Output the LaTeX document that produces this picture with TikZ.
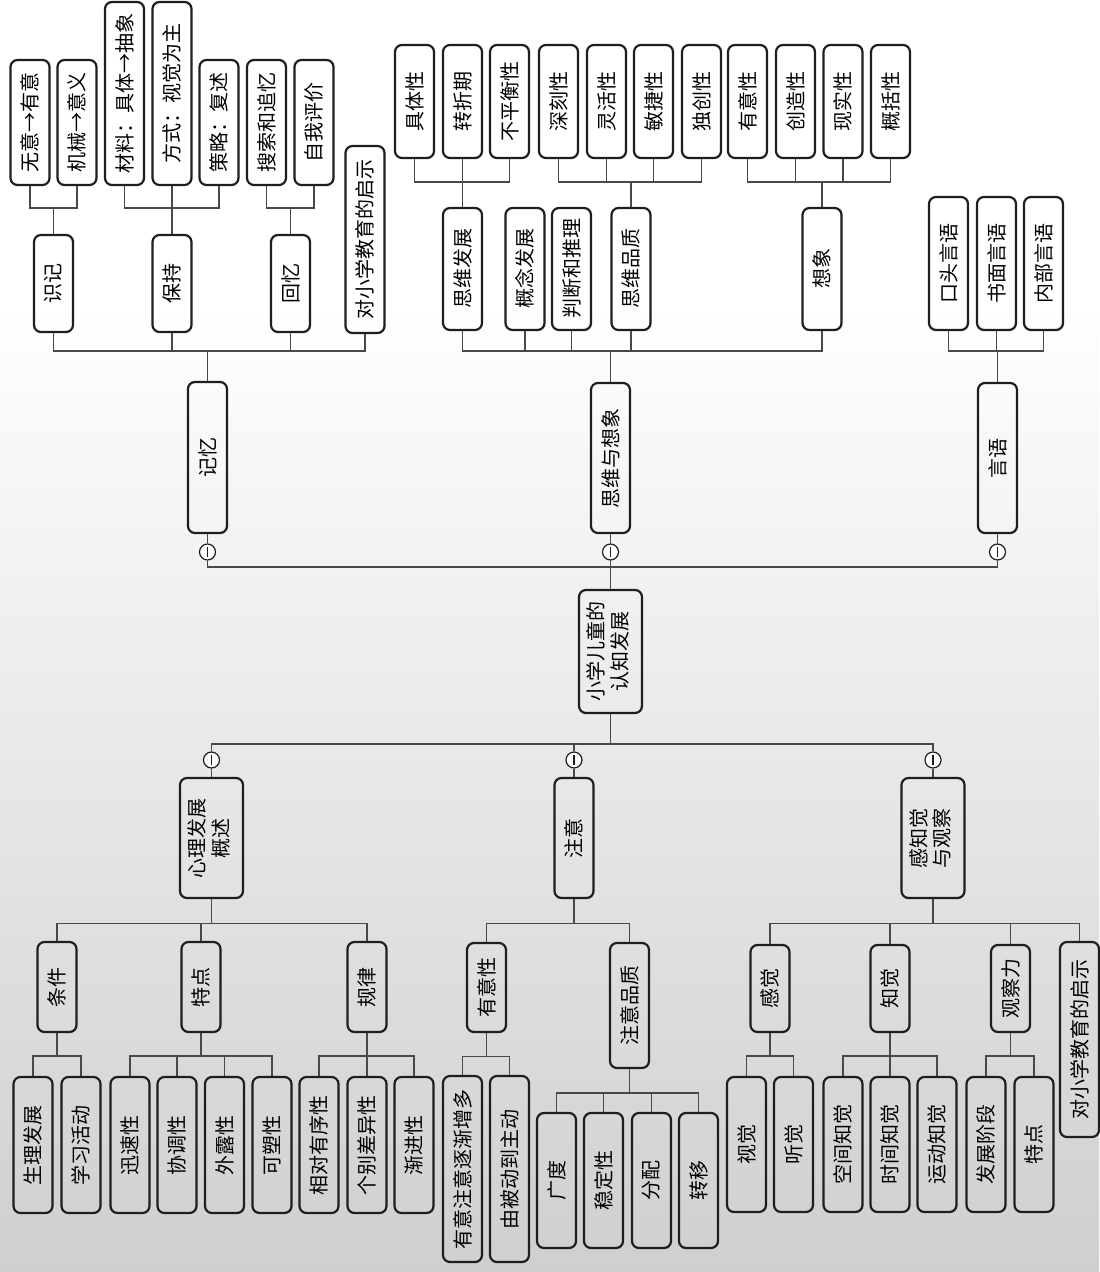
\documentclass[tikz,border=0pt]{standalone}
\usepackage{fontspec}
\setmainfont{Noto Sans CJK SC}
\usepackage{xcolor}
\definecolor{linkgray}{RGB}{72,72,72}
\definecolor{boxline}{RGB}{30,30,30}
\definecolor{paperbottom}{RGB}{206,207,209}
\newcommand{\vtext}[1]{\rotatebox{90}{#1}}
\newcommand{\vtwo}[2]{\rotatebox{90}{\begin{tabular}{@{}c@{}}#1\\#2\end{tabular}}}

\tikzset{
  box/.style={draw=boxline, line width=1.1pt, rounded corners=3.5pt, inner sep=0pt,
    minimum width=19.5pt, font=\fontsize{10pt}{11.5pt}\selectfont},
  widebox/.style={box, minimum width=31.5pt},
  link/.style={linkgray, line width=0.65pt},
  fold/.style={circle, draw=boxline, fill=white, line width=0.6pt, minimum size=8pt, inner sep=0pt,
    path picture={\draw[line width=0.6pt] ([yshift=-2.5pt]path picture bounding box.center)
      -- ([yshift=2.5pt]path picture bounding box.center);}},
}

\begin{document}
\begin{tikzpicture}[x=0.5pt, y=-0.5pt]
  % paper
  \useasboundingbox (0,0) rectangle (1099,1272);
  \fill[white] (0,0) rectangle (1099,1272);
  \shade[top color=white, bottom color=paperbottom] (0,300) rectangle (1099,1272);

  % Memory branch
  \node[box, minimum height=62.5pt] (wuyi) at (30,122.5) {\vtext{无意→有意}};
  \node[box, minimum height=62.5pt] (jixie) at (77,122.5) {\vtext{机械→意义}};
  \node[box, minimum height=91.5pt] (cailiao) at (124.5,93.5) {\vtext{材料：具体→抽象}};
  \node[box, minimum height=91.5pt] (fangshi) at (172,93.5) {\vtext{方式：视觉为主}};
  \node[box, minimum height=62.5pt] (celue) at (219,122.5) {\vtext{策略：复述}};
  \node[box, minimum height=62.5pt] (sousuo) at (266.5,122.5) {\vtext{搜索和追忆}};
  \node[box, minimum height=62.5pt] (ziwo) at (314,122.5) {\vtext{自我评价}};
  \node[box, minimum height=93.5pt] (qishiA) at (365,239.5) {\vtext{对小学教育的启示}};
  \node[box, minimum height=48.5pt] (shiji) at (53.5,283.5) {\vtext{识记}};
  \node[box, minimum height=48.5pt] (baochi) at (172,283.5) {\vtext{保持}};
  \node[box, minimum height=48.5pt] (huiyi) at (290.5,283.5) {\vtext{回忆}};
  \node[box, minimum height=75.5pt] (jiyi) at (207.5,457.5) {\vtext{记忆}};

  \draw[link] (shiji.north) -- ++(0,-26) coordinate (shiji-k);
  \foreach \kid in {wuyi,jixie} \draw[link] (\kid.south) |- (shiji-k);
  \draw[link] (baochi.north) -- ++(0,-26) coordinate (baochi-k);
  \foreach \kid in {cailiao,fangshi,celue} \draw[link] (\kid.south) |- (baochi-k);
  \draw[link] (huiyi.north) -- ++(0,-26) coordinate (huiyi-k);
  \foreach \kid in {sousuo,ziwo} \draw[link] (\kid.south) |- (huiyi-k);
  \draw[link] (jiyi.north) -- ++(0,-30) coordinate (jiyi-k);
  \foreach \kid in {shiji,baochi,huiyi,qishiA} \draw[link] (\kid.south) |- (jiyi-k);

  % Thinking and imagination branch
  \node[box, minimum height=56.5pt] (juti) at (414.5,101.5) {\vtext{具体性}};
  \node[box, minimum height=56.5pt] (zhuanzhe) at (462.5,101.5) {\vtext{转折期}};
  \node[box, minimum height=56.5pt] (buping) at (509.5,101.5) {\vtext{不平衡性}};
  \node[box, minimum height=56.5pt] (shenke) at (558.5,101.5) {\vtext{深刻性}};
  \node[box, minimum height=56.5pt] (linghuo) at (606.5,101.5) {\vtext{灵活性}};
  \node[box, minimum height=56.5pt] (minjie) at (653.5,101.5) {\vtext{敏捷性}};
  \node[box, minimum height=56.5pt] (duchuang) at (701.5,101.5) {\vtext{独创性}};
  \node[box, minimum height=56.5pt] (youyiA) at (747.5,101.5) {\vtext{有意性}};
  \node[box, minimum height=56.5pt] (chuangzao) at (795.5,101.5) {\vtext{创造性}};
  \node[box, minimum height=56.5pt] (xianshi) at (843,101.5) {\vtext{现实性}};
  \node[box, minimum height=56.5pt] (gaikuo) at (890.5,101.5) {\vtext{概括性}};
  \node[box, minimum height=61pt] (siweifz) at (462.5,269) {\vtext{思维发展}};
  \node[box, minimum height=61pt] (gainian) at (525,269) {\vtext{概念发展}};
  \node[box, minimum height=61pt] (panduan) at (571.5,269) {\vtext{判断和推理}};
  \node[box, minimum height=61pt] (pinzhi) at (631,269) {\vtext{思维品质}};
  \node[box, minimum height=61pt] (xiangxiang) at (822,269) {\vtext{想象}};
  \node[box, minimum height=75pt] (swxx) at (610.5,458) {\vtext{思维与想象}};

  \draw[link] (siweifz.north) -- ++(0,-25) coordinate (siweifz-k);
  \foreach \kid in {juti,zhuanzhe,buping} \draw[link] (\kid.south) |- (siweifz-k);
  \draw[link] (pinzhi.north) -- ++(0,-25) coordinate (pinzhi-k);
  \foreach \kid in {shenke,linghuo,minjie,duchuang} \draw[link] (\kid.south) |- (pinzhi-k);
  \draw[link] (xiangxiang.north) -- ++(0,-25) coordinate (xiangxiang-k);
  \foreach \kid in {youyiA,chuangzao,xianshi,gaikuo} \draw[link] (\kid.south) |- (xiangxiang-k);
  \draw[link] (swxx.north) -- ++(0,-31) coordinate (swxx-k);
  \foreach \kid in {siweifz,gainian,panduan,pinzhi,xiangxiang} \draw[link] (\kid.south) |- (swxx-k);

  % Language branch
  \node[box, minimum height=66.5pt] (koutou) at (948.5,263.5) {\vtext{口头言语}};
  \node[box, minimum height=66.5pt] (shumian) at (996.5,263.5) {\vtext{书面言语}};
  \node[box, minimum height=66.5pt] (neibu) at (1043.5,263.5) {\vtext{内部言语}};
  \node[box, minimum height=75pt] (yanyu) at (997.5,458) {\vtext{言语}};
  \draw[link] (yanyu.north) -- ++(0,-31) coordinate (yanyu-k);
  \foreach \kid in {koutou,shumian,neibu} \draw[link] (\kid.south) |- (yanyu-k);

  % Root
  \node[widebox, minimum height=61.5pt] (root) at (610.5,651.5) {\vtwo{小学儿童的}{认知发展}};
  \node[fold] (c1) at (207.5,552) {};
  \node[fold] (c2) at (610.5,552) {};
  \node[fold] (c3) at (997.5,552) {};
  \node[fold] (c4) at (211.5,760) {};
  \node[fold] (c5) at (574,760) {};
  \node[fold] (c6) at (933,760) {};
  \draw[link] (jiyi.south) -- (c1.north);
  \draw[link] (swxx.south) -- (c2.north);
  \draw[link] (yanyu.south) -- (c3.north);
  \draw[link] (root.north) -- ++(0,-22) coordinate (root-up);
  \foreach \kid in {c1,c2,c3} \draw[link] (\kid.south) |- (root-up);
  \draw[link] (root.south) -- ++(0,30) coordinate (root-down);
  \foreach \kid in {c4,c5,c6} \draw[link] (\kid.north) |- (root-down);

  % Psychological development branch
  \node[widebox, minimum height=60pt] (xinli) at (211.5,838) {\vtwo{心理发展}{概述}};
  \node[box, minimum height=45pt] (tiaojian) at (57,987) {\vtext{条件}};
  \node[box, minimum height=45pt] (tedianA) at (201,987) {\vtext{特点}};
  \node[box, minimum height=45pt] (guilv) at (367,987) {\vtext{规律}};
  \node[box, minimum height=68pt] (shengli) at (33,1145) {\vtext{生理发展}};
  \node[box, minimum height=68pt] (xuexi) at (81,1145) {\vtext{学习活动}};
  \node[box, minimum height=68pt] (xunsu) at (130,1145) {\vtext{迅速性}};
  \node[box, minimum height=68pt] (xietiao) at (177,1145) {\vtext{协调性}};
  \node[box, minimum height=68pt] (wailu) at (224.5,1145) {\vtext{外露性}};
  \node[box, minimum height=68pt] (kesu) at (272,1145) {\vtext{可塑性}};
  \node[box, minimum height=68pt] (xiangdui) at (319,1145) {\vtext{相对有序性}};
  \node[box, minimum height=68pt] (gebie) at (367,1145) {\vtext{个别差异性}};
  \node[box, minimum height=68pt] (jianjin) at (414,1145) {\vtext{渐进性}};
  \draw[link] (c4.south) -- (xinli.north);
  \draw[link] (xinli.south) -- ++(0,24.7) coordinate (xinli-k);
  \foreach \kid in {tiaojian,tedianA,guilv} \draw[link] (\kid.north) |- (xinli-k);
  \draw[link] (tiaojian.south) -- ++(0,23) coordinate (tiaojian-k);
  \foreach \kid in {shengli,xuexi} \draw[link] (\kid.north) |- (tiaojian-k);
  \draw[link] (tedianA.south) -- ++(0,23) coordinate (tedianA-k);
  \foreach \kid in {xunsu,xietiao,wailu,kesu} \draw[link] (\kid.north) |- (tedianA-k);
  \draw[link] (guilv.south) -- ++(0,23) coordinate (guilv-k);
  \foreach \kid in {xiangdui,gebie,jianjin} \draw[link] (\kid.north) |- (guilv-k);

  % Attention branch
  \node[box, minimum height=60pt] (zhuyi) at (574,838) {\vtext{注意}};
  \node[box, minimum height=44.5pt] (youyiB) at (486.5,987.5) {\vtext{有意性}};
  \node[box, minimum height=62.5pt] (zypz) at (629.5,1005.5) {\vtext{注意品质}};
  \node[box, minimum height=93pt] (zhujian) at (462.5,1169) {\vtext{有意注意逐渐增多}};
  \node[box, minimum height=93pt] (beidong) at (509.5,1169) {\vtext{由被动到主动}};
  \node[box, minimum height=67.5pt] (guangdu) at (556.5,1180.5) {\vtext{广度}};
  \node[box, minimum height=67.5pt] (wending) at (603.5,1180.5) {\vtext{稳定性}};
  \node[box, minimum height=67.5pt] (fenpei) at (651.5,1180.5) {\vtext{分配}};
  \node[box, minimum height=67.5pt] (zhuanyi) at (698.5,1180.5) {\vtext{转移}};
  \draw[link] (c5.south) -- (zhuyi.north);
  \draw[link] (zhuyi.south) -- ++(0,24.7) coordinate (zhuyi-k);
  \foreach \kid in {youyiB,zypz} \draw[link] (\kid.north) |- (zhuyi-k);
  \draw[link] (youyiB.south) -- ++(0,23.7) coordinate (youyiB-k);
  \foreach \kid in {zhujian,beidong} \draw[link] (\kid.north) |- (youyiB-k);
  \draw[link] (zypz.south) -- ++(0,24) coordinate (zypz-k);
  \foreach \kid in {guangdu,wending,fenpei,zhuanyi} \draw[link] (\kid.north) |- (zypz-k);

  % Perception and observation branch
  \node[widebox, minimum height=60pt] (ganzhi) at (933,838) {\vtwo{感知觉}{与观察}};
  \node[box, minimum height=43.5pt] (ganjue) at (770,988.5) {\vtext{感觉}};
  \node[box, minimum height=43.5pt] (zhijue) at (890,988.5) {\vtext{知觉}};
  \node[box, minimum height=43.5pt] (guancha) at (1010.5,988.5) {\vtext{观察力}};
  \node[box, minimum height=97.5pt] (qishiB) at (1079.5,1039.5) {\vtext{对小学教育的启示}};
  \node[box, minimum height=67.5pt] (shijue) at (746.5,1144.5) {\vtext{视觉}};
  \node[box, minimum height=67.5pt] (tingjue) at (793.5,1144.5) {\vtext{听觉}};
  \node[box, minimum height=67.5pt] (kongjian) at (843,1144.5) {\vtext{空间知觉}};
  \node[box, minimum height=67.5pt] (shijian) at (890,1144.5) {\vtext{时间知觉}};
  \node[box, minimum height=67.5pt] (yundong) at (937,1144.5) {\vtext{运动知觉}};
  \node[box, minimum height=67.5pt] (fazhan) at (986,1144.5) {\vtext{发展阶段}};
  \node[box, minimum height=67.5pt] (tedianB) at (1034,1144.5) {\vtext{特点}};
  \draw[link] (c6.south) -- (ganzhi.north);
  \draw[link] (ganzhi.south) -- ++(0,24.7) coordinate (ganzhi-k);
  \foreach \kid in {ganjue,zhijue,guancha,qishiB} \draw[link] (\kid.north) |- (ganzhi-k);
  \draw[link] (ganjue.south) -- ++(0,23) coordinate (ganjue-k);
  \foreach \kid in {shijue,tingjue} \draw[link] (\kid.north) |- (ganjue-k);
  \draw[link] (zhijue.south) -- ++(0,23) coordinate (zhijue-k);
  \foreach \kid in {kongjian,shijian,yundong} \draw[link] (\kid.north) |- (zhijue-k);
  \draw[link] (guancha.south) -- ++(0,23) coordinate (guancha-k);
  \foreach \kid in {fazhan,tedianB} \draw[link] (\kid.north) |- (guancha-k);
\end{tikzpicture}
\end{document}
